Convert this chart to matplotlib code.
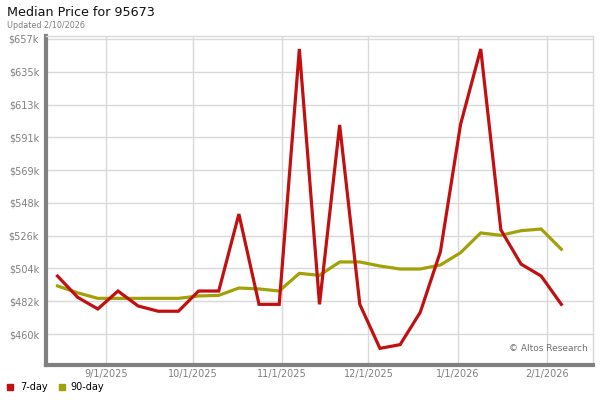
import matplotlib
matplotlib.use("Agg")
import matplotlib.pyplot as plt
import matplotlib.dates as mdates
import numpy as np
import datetime as dt

start = dt.date(2025, 8, 15)
dates = [start + dt.timedelta(days=7 * i) for i in range(26)]

seven_day = [498.7, 484.5, 476.7, 488.7, 478.7, 475.2, 475.2, 488.7, 488.7, 540.1,
             479.8, 479.8, 650.3, 479.8, 599.6, 479.8, 450.4, 452.9, 474.5, 515.0,
             600.0, 650.3, 529.5, 506.7, 498.7, 479.8]
ninety_day = [492.1, 487.5, 483.8, 483.8, 483.8, 483.8, 483.8, 485.4, 485.8, 490.7,
              490.1, 488.7, 500.5, 499.2, 508.1, 508.1, 505.4, 503.4, 503.4, 506.1,
              514.3, 527.5, 525.9, 529.0, 530.1, 516.6]

y_ticks = [460, 482, 504, 526, 548, 569, 591, 613, 635, 657]
y_tick_pos = list(np.linspace(460, 657, 10))
x_tick_dates = [dt.date(2025, 9, 1), dt.date(2025, 10, 1), dt.date(2025, 11, 1),
                dt.date(2025, 12, 1), dt.date(2026, 1, 1), dt.date(2026, 2, 1)]
x_tick_labels = ["9/1/2025", "10/1/2025", "11/1/2025", "12/1/2025", "1/1/2026", "2/1/2026"]

RED = "#c20f10"
OLIVE = "#a3a10a"

plt.rcParams['font.family'] = ['DejaVu Sans']
fig = plt.figure(figsize=(6, 4), dpi=100)
ax = fig.add_axes([46 / 600, 1 - 365 / 400, (593 - 46) / 600, (365 - 35.7) / 400])

ax.plot(dates, ninety_day, color=OLIVE, lw=2.3, solid_joinstyle='miter', zorder=3)
ax.plot(dates, seven_day, color=RED, lw=2.3, solid_joinstyle='miter', zorder=4)

ax.set_ylim(439.3, 659.2)
ax.set_xlim(dt.date(2025, 8, 11), dt.date(2026, 2, 17))
ax.set_yticks(y_tick_pos)
ax.set_yticklabels([f"${v}k" for v in y_ticks])
ax.set_xticks(x_tick_dates)
ax.set_xticklabels(x_tick_labels)
ax.tick_params(axis='both', length=0, labelsize=7, labelcolor='#808080')
ax.tick_params(axis='y', pad=5)
ax.tick_params(axis='x', pad=3)
ax.grid(True, color='#d9d9d9', lw=1)
ax.set_axisbelow(True)

for s in ['top', 'right']:
    ax.spines[s].set_color('#d9d9d9')
    ax.spines[s].set_linewidth(1)
for s in ['left', 'bottom']:
    ax.spines[s].set_color('#808080')
    ax.spines[s].set_linewidth(3)

ax.text(0.99, 0.035, "© Altos Research", transform=ax.transAxes, ha='right', va='bottom',
        fontsize=6.5, color='#707070')

fig.text(7 / 600, 1 - 13 / 400, "Median Price for 95673", fontsize=9.2, color='#111111',
         ha='left', va='center')
fig.text(7 / 600, 1 - 25 / 400, "Updated 2/10/2026", fontsize=5.8, color='#808080',
         ha='left', va='center')

# legend
fig.patches.append(plt.Rectangle((7 / 600, 1 - 390 / 400), 6 / 600, 6 / 400,
                                 transform=fig.transFigure, color=RED))
fig.text(20 / 600, 1 - 387 / 400, "7-day", fontsize=7, ha='left', va='center')
fig.patches.append(plt.Rectangle((59 / 600, 1 - 390 / 400), 6 / 600, 6 / 400,
                                 transform=fig.transFigure, color=OLIVE))
fig.text(70 / 600, 1 - 387 / 400, "90-day", fontsize=7, ha='left', va='center')

fig.savefig("out.png", dpi=100)
